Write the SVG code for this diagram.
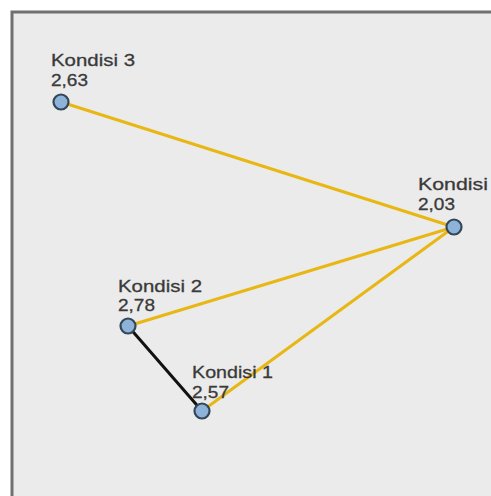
<svg xmlns="http://www.w3.org/2000/svg" width="491" height="496" viewBox="0 0 491 496">
<style>
.lbl{font-family:"Liberation Sans",Arial,sans-serif;font-size:17px;fill:#3a3a3a;stroke:#3a3a3a;stroke-width:0.3}
.y{stroke:#e8b714;stroke-width:3;fill:none}
.k{stroke:#111111;stroke-width:3;fill:none}
.nd{fill:#8db3d8;stroke:#34475a;stroke-width:2.2}
</style>
<rect width="491" height="496" fill="#ffffff"/>
<rect x="12" y="12" width="500" height="500" fill="#ebebeb" stroke="#707070" stroke-width="3"/>
<g id="connectors">
<line class="y" x1="61" y1="102" x2="454" y2="227"/>
<line class="y" x1="128" y1="326" x2="454" y2="227"/>
<line class="y" x1="202" y1="411" x2="454" y2="227"/>
<line class="k" x1="128" y1="326" x2="202" y2="411"/>
</g>
<g id="kondisi3">
<circle class="nd" cx="61" cy="102" r="7.5"/>
<text class="lbl" x="51" y="66" textLength="84" lengthAdjust="spacingAndGlyphs">Kondisi 3</text>
<text class="lbl" x="51" y="86" textLength="37" lengthAdjust="spacingAndGlyphs">2,63</text>
</g>
<g id="kondisi4">
<circle class="nd" cx="454" cy="227" r="7.5"/>
<text class="lbl" x="418" y="190" textLength="70" lengthAdjust="spacingAndGlyphs">Kondisi</text>
<text class="lbl" x="418" y="210" textLength="37" lengthAdjust="spacingAndGlyphs">2,03</text>
</g>
<g id="kondisi2">
<circle class="nd" cx="128" cy="326" r="7.5"/>
<text class="lbl" x="118" y="292" textLength="84" lengthAdjust="spacingAndGlyphs">Kondisi 2</text>
<text class="lbl" x="118" y="311" textLength="37" lengthAdjust="spacingAndGlyphs">2,78</text>
</g>
<g id="kondisi1">
<circle class="nd" cx="202" cy="411" r="7.5"/>
<text class="lbl" x="192" y="378" textLength="81" lengthAdjust="spacingAndGlyphs">Kondisi 1</text>
<text class="lbl" x="192" y="398" textLength="37" lengthAdjust="spacingAndGlyphs">2,57</text>
</g>
</svg>
